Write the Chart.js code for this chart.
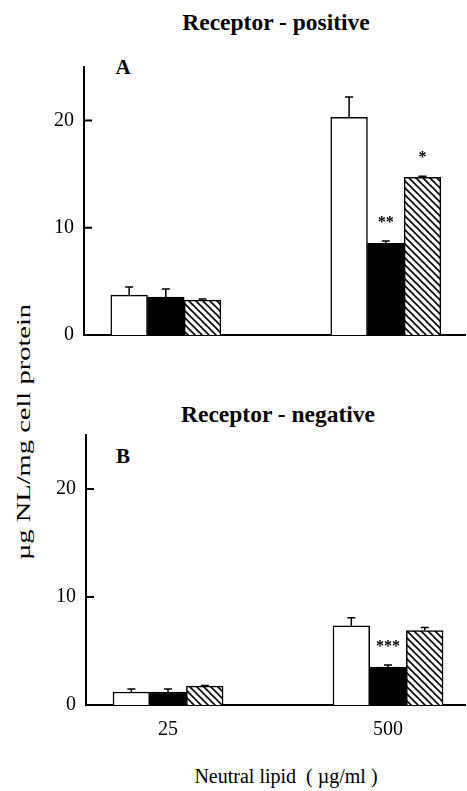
<!DOCTYPE html>
<html>
<head>
<meta charset="utf-8">
<script src="https://cdn.jsdelivr.net/npm/chart.js@4.4.0/dist/chart.umd.min.js"></script>
<style>
  body { margin: 0; background: #fff; }
  #page { position: relative; width: 467px; height: 791px; font-family: "Liberation Serif", serif; color: #000; }
  canvas { position: absolute; left: 0; }
  .txt { position: absolute; white-space: pre; line-height: 1; transform: translate(-50%, -50%); }
</style>
</head>
<body>
<div id="page">
  <div class="txt" style="left:276px; top:23px; font-size:23.5px; font-weight:bold;">Receptor - positive</div>
  <div class="txt" style="left:123px; top:67px; font-size:21px; font-weight:bold;">A</div>
  <div class="txt" style="left:278px; top:415px; font-size:23.5px; font-weight:bold;">Receptor - negative</div>
  <div class="txt" style="left:123px; top:456px; font-size:21px; font-weight:bold;">B</div>
  <div class="txt" style="left:23px; top:432px; font-size:19px; transform:translate(-50%, -50%) rotate(-90deg) scaleX(1.5);">µg NL/mg cell protein</div>
  <div class="txt" style="left:286px; top:776px; font-size:20px;">Neutral lipid  ( µg/ml )</div>
  <canvas id="chartA" width="467" height="360" style="top:0"></canvas>
  <canvas id="chartB" width="467" height="441" style="top:350px"></canvas>
</div>
<script>
// lipid concentrations (µg/ml)
const categories = ['25', '500']
const yTicks = [0, 10, 20]

// A: receptor-positive cells
const posOpen = [3.72, 20.3]
const posOpenErr = [0.75, 1.9]
const posSolid = [3.53, 8.56]
const posSolidErr = [0.75, 0.2]
const posHatch = [3.26, 14.7]
const posHatchErr = [0.1, 0.1]
const posSolidMarks = ['', '**']
const posHatchMarks = ['', '*']

// B: receptor-negative cells
const negOpen = [1.2, 7.34]
const negOpenErr = [0.27, 0.73]
const negSolid = [1.2, 3.5]
const negSolidErr = [0.27, 0.2]
const negHatch = [1.75, 6.9]
const negHatchErr = [0.05, 0.27]
const negSolidMarks = ['', '***']

const FONT = '"Liberation Serif", serif'

function hatchPattern(ctx) {
  const p = 7
  const c = document.createElement('canvas')
  c.width = p; c.height = p
  const g = c.getContext('2d')
  g.fillStyle = '#fff'
  g.fillRect(0, 0, p, p)
  g.strokeStyle = '#000'
  g.lineWidth = 1.6
  g.beginPath()
  g.moveTo(-1, -1); g.lineTo(p + 1, p + 1)
  g.moveTo(-p - 1, -1); g.lineTo(1, p + 1)
  g.moveTo(p - 1, -1); g.lineTo(2 * p + 1, p + 1)
  g.stroke()
  return ctx.createPattern(c, 'repeat')
}

const extras = {
  id: 'extras',
  afterDatasetsDraw(chart) {
    const ctx = chart.ctx
    const y = chart.scales.y
    const area = chart.chartArea
    ctx.save()
    ctx.strokeStyle = '#000'
    ctx.fillStyle = '#000'
    ctx.lineWidth = 1.5
    chart.data.datasets.forEach((ds, di) => {
      chart.getDatasetMeta(di).data.forEach((bar, i) => {
        const top = y.getPixelForValue(ds.data[i].y + ds.err[i])
        ctx.beginPath()
        ctx.moveTo(bar.x, bar.y)
        ctx.lineTo(bar.x, top)
        ctx.moveTo(bar.x - 4, top)
        ctx.lineTo(bar.x + 4, top)
        ctx.stroke()
        const mark = ds.marks && ds.marks[i]
        if (mark) {
          ctx.font = 'bold 16px ' + FONT
          ctx.textAlign = 'center'
          ctx.textBaseline = 'alphabetic'
          ctx.fillText(mark, bar.x, top - 14)
        }
      })
    })
    // inward tick marks on the y axis
    ctx.lineWidth = 2
    ctx.beginPath()
    y.ticks.forEach(t => {
      if (t.value === 0) return
      const py = y.getPixelForValue(t.value)
      ctx.moveTo(area.left, py)
      ctx.lineTo(area.left + 8, py)
    })
    ctx.stroke()
    ctx.restore()
  }
}

function makeChart(id, series, opts) {
  const ctx = document.getElementById(id).getContext('2d')
  const fills = ['#fff', '#000', hatchPattern(ctx)]
  return new Chart(ctx, {
    type: 'bar',
    data: {
      datasets: series.map((s, k) => ({
        data: s.values.map((v, i) => ({x: i, y: v})),
        err: s.err,
        marks: s.marks,
        backgroundColor: fills[k],
        borderColor: '#000',
        borderWidth: 1.5,
        barThickness: 36.7,
      })),
    },
    options: {
      responsive: false,
      animation: false,
      events: [],
      layout: {padding: opts.padding},
      plugins: {legend: {display: false}, tooltip: {enabled: false}},
      scales: {
        x: {
          type: 'linear',
          offset: false,
          min: opts.xMin,
          max: opts.xMax,
          afterBuildTicks: s => { s.ticks = categories.map((c, i) => ({value: i})) },
          afterFit: s => { s.height = opts.xHeight },
          ticks: {
            display: opts.showX,
            callback: v => categories[v],
            color: '#000',
            font: {family: FONT, size: 20},
            padding: 13,
            maxRotation: 0,
            autoSkip: false,
          },
          grid: {display: false, drawTicks: false},
          border: {display: true, color: '#000', width: 2},
        },
        y: {
          min: 0,
          max: 25,
          afterBuildTicks: s => { s.ticks = yTicks.map(v => ({value: v})) },
          afterFit: s => { s.width = opts.yWidth },
          ticks: {color: '#000', font: {family: FONT, size: 20}, padding: 10},
          grid: {display: false, drawTicks: false},
          border: {display: true, color: '#000', width: 2},
        },
      },
    },
    plugins: [extras],
  })
}

makeChart('chartA', [
  {values: posOpen, err: posOpenErr},
  {values: posSolid, err: posSolidErr, marks: posSolidMarks},
  {values: posHatch, err: posHatchErr, marks: posHatchMarks},
], {padding: {top: 67, right: 2, bottom: 25, left: 0}, yWidth: 84, xHeight: 0, xMin: -0.372, xMax: 1.36, showX: false})

makeChart('chartB', [
  {values: negOpen, err: negOpenErr},
  {values: negSolid, err: negSolidErr, marks: negSolidMarks},
  {values: negHatch, err: negHatchErr},
], {padding: {top: 85, right: 2, bottom: 0, left: 0}, yWidth: 86, xHeight: 86, xMin: -0.373, xMax: 1.35, showX: true})
</script>
</body>
</html>
